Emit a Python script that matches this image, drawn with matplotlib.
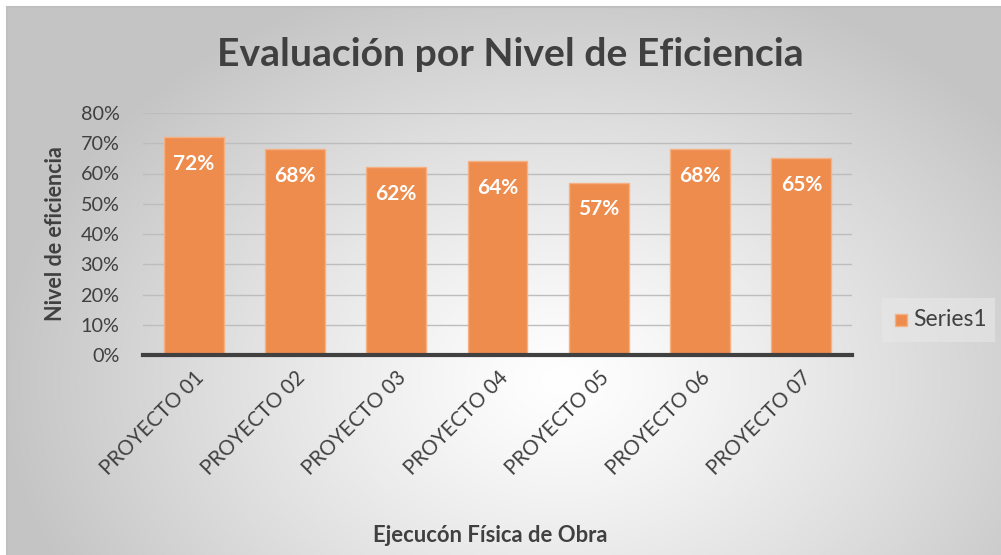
import numpy as np
import matplotlib
matplotlib.use("Agg")
import matplotlib.pyplot as plt
from matplotlib.patches import Rectangle

categories = ["PROYECTO 01", "PROYECTO 02", "PROYECTO 03", "PROYECTO 04",
              "PROYECTO 05", "PROYECTO 06", "PROYECTO 07"]
values = [0.72, 0.68, 0.62, 0.64, 0.57, 0.68, 0.65]
labels = ["72%", "68%", "62%", "64%", "57%", "68%", "65%"]
yticks = [0, 0.1, 0.2, 0.3, 0.4, 0.5, 0.6, 0.7, 0.8]
yticklabels = ["0%", "10%", "20%", "30%", "40%", "50%", "60%", "70%", "80%"]

W, H = 1001, 555
fig = plt.figure(figsize=(W / 100, H / 100), dpi=100)
fig.patch.set_facecolor("white")

FONT = ["Lato", "DejaVu Sans"]
TXT = "#404040"

# background gradient axes
bg = fig.add_axes([0, 0, 1, 1])
bg.set_xlim(0, W)
bg.set_ylim(H, 0)
bg.axis("off")
x0, y0 = 7, 7
xx, yy = np.meshgrid(np.arange(x0, W), np.arange(y0, H))
cx, cy = 560, 380
d = np.sqrt(((xx - cx) / 560.0) ** 2 + ((yy - cy) / 420.0) ** 2)
d = np.clip(d, 0, 1)
g = 1.0 - 0.23 * d ** 1.2
img = np.dstack([g, g, g])
bg.imshow(img, extent=[x0, W, H, y0], aspect="auto", interpolation="bilinear")
bg.plot([x0, W], [y0, y0], color="#c0c0c0", lw=1.5)
bg.plot([x0, x0], [y0, H], color="#c0c0c0", lw=1.5)

# main axes: x 143..852, y 113..355 (px)
L, R, T, B = 143, 852, 113, 355
ax = fig.add_axes([L / W, 1 - B / H, (R - L) / W, (B - T) / H])
ax.patch.set_alpha(0)
x = np.arange(len(categories))
bars = ax.bar(x, values, width=0.59, color="#ee8c4e", edgecolor="#f4b183",
              linewidth=1.0, zorder=3)
ax.set_xlim(-0.5, len(categories) - 0.5)
ax.set_ylim(0, 0.8)
ax.set_yticks(yticks)
ax.set_yticklabels(yticklabels, family=FONT, fontsize=14.3, color=TXT)
ax.yaxis.grid(True, color="#bdbdbd", lw=1.0, zorder=0)
ax.tick_params(axis="both", length=0)
ax.tick_params(axis="y", pad=17)
ax.set_xticks(x)
ax.set_xticklabels(categories, rotation=45, ha="right", rotation_mode="anchor",
                   family=FONT, fontsize=14.8, color=TXT)
ax.tick_params(axis="x", pad=9)
for s in ["top", "right", "left"]:
    ax.spines[s].set_visible(False)
ax.spines["bottom"].set_color("#404040")
ax.spines["bottom"].set_linewidth(3)
ax.spines["bottom"].set_zorder(4)

for xi, v, lab in zip(x, values, labels):
    ax.annotate(lab, (xi, v), xytext=(0, -19), textcoords="offset points",
                ha="center", va="center", color="white", fontweight="bold",
                family=FONT, fontsize=15, zorder=5)

ax.set_ylabel("Nivel de eficiencia", family=FONT, fontsize=15.5,
              fontweight="bold", color=TXT)
ax.yaxis.set_label_coords((66 - L) / (R - L), 0.5)

fig.text(490 / W, 1 - 535 / H, "Ejecucón Física de Obra", family=FONT,
         fontsize=15.8, fontweight="bold", color=TXT, ha="center", va="center")

fig.text(510 / W, 1 - 55 / H, "Evaluación por Nivel de Eficiencia", family=FONT,
         fontsize=28.2, fontweight="bold", color=TXT, ha="center", va="center")

# legend
bg.add_patch(Rectangle((882, 298), 113, 44, facecolor="#e8e8e8", edgecolor="none",
                       alpha=0.6))
bg.add_patch(Rectangle((895, 314), 12, 12, facecolor="#ee8c4e", edgecolor="#f4b183",
                       lw=1))
bg.text(913, 320, "Series1", family=FONT, fontsize=16.5, color=TXT,
        ha="left", va="center")

fig.savefig("out.png", dpi=100)
